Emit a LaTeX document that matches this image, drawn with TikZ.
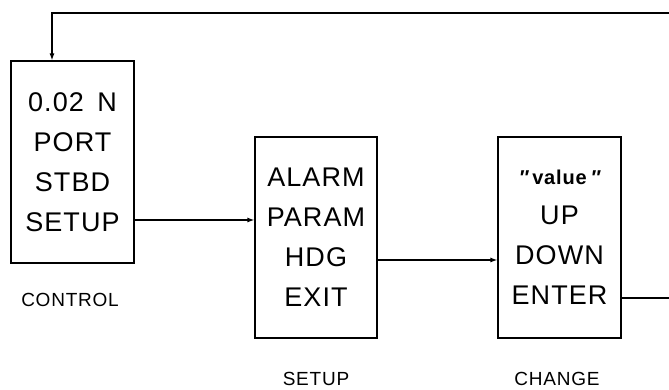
\documentclass[tikz,border=0pt]{standalone}
\usepackage{fontspec}
\setmainfont{Liberation Sans}
\newfontfamily\boxfont[LetterSpace=4]{Liberation Sans}
\usetikzlibrary{arrows.meta}
\tikzset{
  box/.style={draw, line width=1.2pt, rectangle, inner sep=0pt, align=center,
    font=\boxfont\fontsize{27}{40}\selectfont},
  lbl/.style={font=\boxfont\fontsize{19}{22}\selectfont, inner sep=0pt},
  conn/.style={line width=1.2pt},
  arr/.style={conn, -{Latex[length=7pt,width=5pt]}}
}
\begin{document}
\begin{tikzpicture}[x=1pt,y=1pt]
\useasboundingbox (0,0) rectangle (669,390);
\node[box, minimum width=123pt, minimum height=202pt] (control) at (72.5,228)
  {0.02\hspace{0.5em}N\\PORT\\STBD\\SETUP};
\node[box, minimum width=122pt, minimum height=201pt] (setup) at (316,152.5)
  {ALARM\\PARAM\\HDG\\EXIT};
\node[box, minimum width=123pt, minimum height=201pt] (change) at (559.5,152.5)
  {{\fontsize{20}{40}\selectfont\bfseries {\itshape\char"2033}\hspace{0.2em}value\hspace{0.2em}{\itshape\char"2033}}\\UP\\DOWN\\ENTER};
\node[lbl] (lcontrol) at (70,90) {CONTROL};
\node[lbl] (lsetup) at (316,11) {SETUP};
\node[lbl] (lchange) at (557,11) {CHANGE};
\coordinate (outlow) at (669,92);
\coordinate (outtop) at (669,377);
\draw[arr] ([yshift=-58pt]control.east) -- ([yshift=17.5pt]setup.west);
\draw[arr] ([yshift=-22.5pt]setup.east) -- ([yshift=-22.5pt]change.west);
\draw[conn] ([yshift=-60.5pt]change.east) -- (outlow);
\draw[arr] (outtop) -| ([xshift=-20.5pt]control.north);
\end{tikzpicture}
\end{document}
